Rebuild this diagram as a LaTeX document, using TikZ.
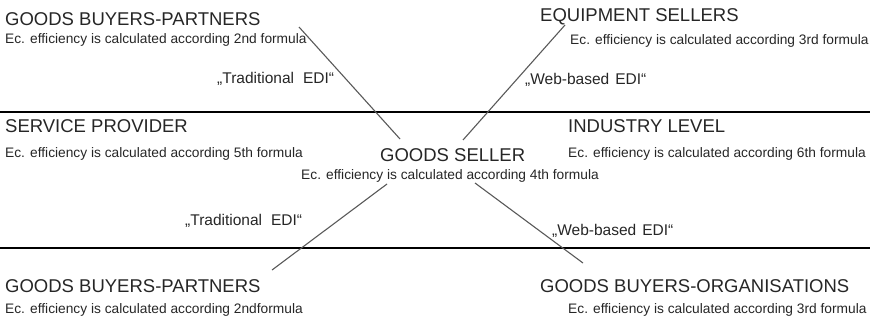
\documentclass[tikz,border=0pt]{standalone}
\usepackage{fontspec}
\setmainfont{Liberation Sans}
\begin{document}
\begin{tikzpicture}[x=1pt,y=-1pt,
  title/.style={anchor=base west,inner sep=0pt,text=black!85,font=\fontsize{18.5}{20}\selectfont},
  note/.style={anchor=base west,inner sep=0pt,text=black!85,font=\fontsize{13.75}{15}\selectfont},
  edi/.style={anchor=base west,inner sep=0pt,text=black!85,font=\fontsize{15.5}{17}\selectfont},
  link/.style={draw=black!65,line width=1.1pt},
  band/.style={draw=black,line width=1.2pt}]
\useasboundingbox (0,0) rectangle (870,322);
% band separators
\coordinate (b1l) at (0,112);   \coordinate (b1r) at (870,112);
\coordinate (b2l) at (0,248);   \coordinate (b2r) at (870,248);
\draw[band] (b1l) -- (b1r);
\draw[band] (b2l) -- (b2r);
% upper band
\node[title] (bp1) at (5,25) {GOODS BUYERS-PARTNERS};
\node[note]  (bp1n) at (5,43) {Ec. efficiency is calculated according 2nd formula};
\node[title] (eq) at (540,21) {EQUIPMENT SELLERS};
\node[note]  (eqn) at (570,44) {Ec. efficiency is calculated according 3rd formula};
\node[edi]   (tr1) at (217,83) {„Traditional\hspace{9pt}EDI“};
\node[edi]   (wb1) at (525,84) {„Web-based\hspace{6pt}EDI“};
% middle band
\node[title] (sp) at (5,132) {SERVICE PROVIDER};
\node[note]  (spn) at (5,157) {Ec. efficiency is calculated according 5th formula};
\node[title] (gs) at (380,161) {GOODS SELLER};
\node[note]  (gsn) at (301,179) {Ec. efficiency is calculated according 4th formula};
\node[title] (il) at (568,132) {INDUSTRY LEVEL};
\node[note]  (iln) at (568,157) {Ec. efficiency is calculated according 6th formula};
% lower band
\node[edi]   (tr2) at (185,225) {„Traditional\hspace{9pt}EDI“};
\node[edi]   (wb2) at (552,235) {„Web-based\hspace{6pt}EDI“};
\node[title] (bp2) at (5,292) {GOODS BUYERS-PARTNERS};
\node[note]  (bp2n) at (5,313) {Ec. efficiency is calculated according 2ndformula};
\node[title] (bo) at (540,292) {GOODS BUYERS-ORGANISATIONS};
\node[note]  (bon) at (568,313) {Ec. efficiency is calculated according 3rd formula};
% connector ends
\coordinate (bp1e) at (299,27);
\coordinate (eqe)  at (565,25);
\coordinate (gsul) at (400,139);
\coordinate (gsur) at (463,140);
\coordinate (gsll) at (387,184);
\coordinate (gslr) at (475,183);
\coordinate (bp2e) at (272,270);
\coordinate (boe)  at (583,263);
\draw[link] (bp1e) -- (gsul);
\draw[link] (eqe) -- (gsur);
\draw[link] (gsll) -- (bp2e);
\draw[link] (gslr) -- (boe);
\end{tikzpicture}
\end{document}
